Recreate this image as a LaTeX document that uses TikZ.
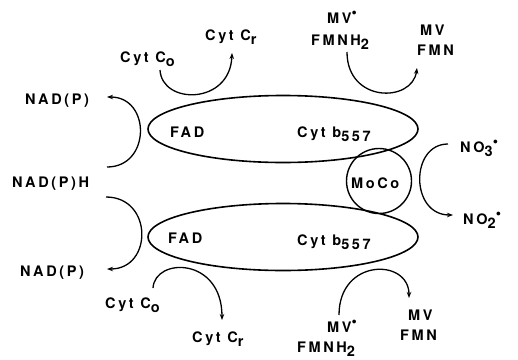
\documentclass[tikz,border=0pt]{standalone}
\usepackage{fontspec}
\newfontfamily\labfont{texgyreheros-bold}[Extension=.otf, LetterSpace=18]
\usetikzlibrary{arrows.meta,shapes.geometric}
\newcommand{\dnx}[1]{\raisebox{-4pt}{#1}}
\newcommand{\upx}[1]{\raisebox{5.5pt}{\fontsize{15}{15}\selectfont #1}}
\begin{document}
\begin{tikzpicture}[x=1pt,y=-1pt,
  lab/.style={font=\labfont\fontsize{14.5}{16}\selectfont, inner sep=0pt, anchor=base west},
  body/.style={draw, ellipse, line width=1.6pt, minimum width=270pt, minimum height=67pt, inner sep=0pt},
  moco/.style={draw, circle, line width=1.4pt, minimum size=65pt, inner sep=0pt},
  conn/.style={line width=1.3pt, -{Stealth[length=6pt,width=4.5pt]}}]
\useasboundingbox (0,0) rectangle (518,359);
% bodies
\node[body] (top) at (283,129) {};
\node[body] (bot) at (283,237) {};
\node[moco] (mo) at (379,181) {};
% labels in bodies
\node[lab] (fad1) at (170,137) {FAD};
\node[lab] (cyb1) at (297,137) {Cyt b\dnx{557}};
\node[lab] (fad2) at (168,243) {FAD};
\node[lab] (cyb2) at (297,245) {Cyt b\dnx{557}};
\node[lab] (moc) at (351,188) {MoCo};
% outer labels
\node[lab] (nadt) at (25,104) {NAD(P)};
\node[lab] (nadh) at (12,187) {NAD(P)H};
\node[lab] (nadb) at (20,276) {NAD(P)};
\node[lab] (co1) at (120,62) {Cyt C\dnx{o}};
\node[lab] (cr1) at (205,40) {Cyt C\dnx{r}};
\node[lab] (mvr1) at (327,23) {MV\upx{\textbullet}};
\node[lab] (fh1) at (311,45) {FMNH\dnx{2}};
\node[lab] (mv1) at (420,35) {MV};
\node[lab] (fmn1) at (417,55) {FMN};
\node[lab] (co2) at (105,308) {Cyt C\dnx{o}};
\node[lab] (cr2) at (192,342) {Cyt C\dnx{r}};
\node[lab] (mvr2) at (327,332) {MV\upx{\textbullet}};
\node[lab] (fh2) at (297,352) {FMNH\dnx{2}};
\node[lab] (mv2) at (408,320) {MV};
\node[lab] (fmn2) at (400,340) {FMN};
\node[lab] (no3) at (460,152) {NO\dnx{3}\upx{\textbullet}};
\node[lab] (no2) at (463,224) {NO\dnx{2}\upx{\textbullet}};
% connector end points
\coordinate (a1s) at (107,167); \coordinate (a1e) at (107,97);
\coordinate (a2s) at (106,197); \coordinate (a2e) at (107,269);
\coordinate (a3s) at (160,70);  \coordinate (a3e) at (232,53);
\coordinate (a4s) at (347,52);  \coordinate (a4e) at (417,68);
\coordinate (a5s) at (153,288); \coordinate (a5e) at (222,320);
\coordinate (a6s) at (339,315); \coordinate (a6e) at (409,298);
\coordinate (a7s) at (448,144); \coordinate (a7e) at (453,215);
% connectors
\draw[conn] (a1s) .. controls (151,167) and (151,97) .. (a1e);
\draw[conn] (a2s) .. controls (153,197) and (153,269) .. (a2e);
\draw[conn] (a3s) .. controls (162,105) and (230,105) .. (a3e);
\draw[conn] (a4s) .. controls (347,103) and (412,103) .. (a4e);
\draw[conn] (a5s) .. controls (155,257) and (222,257) .. (a5e);
\draw[conn] (a6s) .. controls (339,258) and (409,258) .. (a6e);
\draw[conn] (a7s) .. controls (410,144) and (410,215) .. (a7e);
\end{tikzpicture}
\end{document}
